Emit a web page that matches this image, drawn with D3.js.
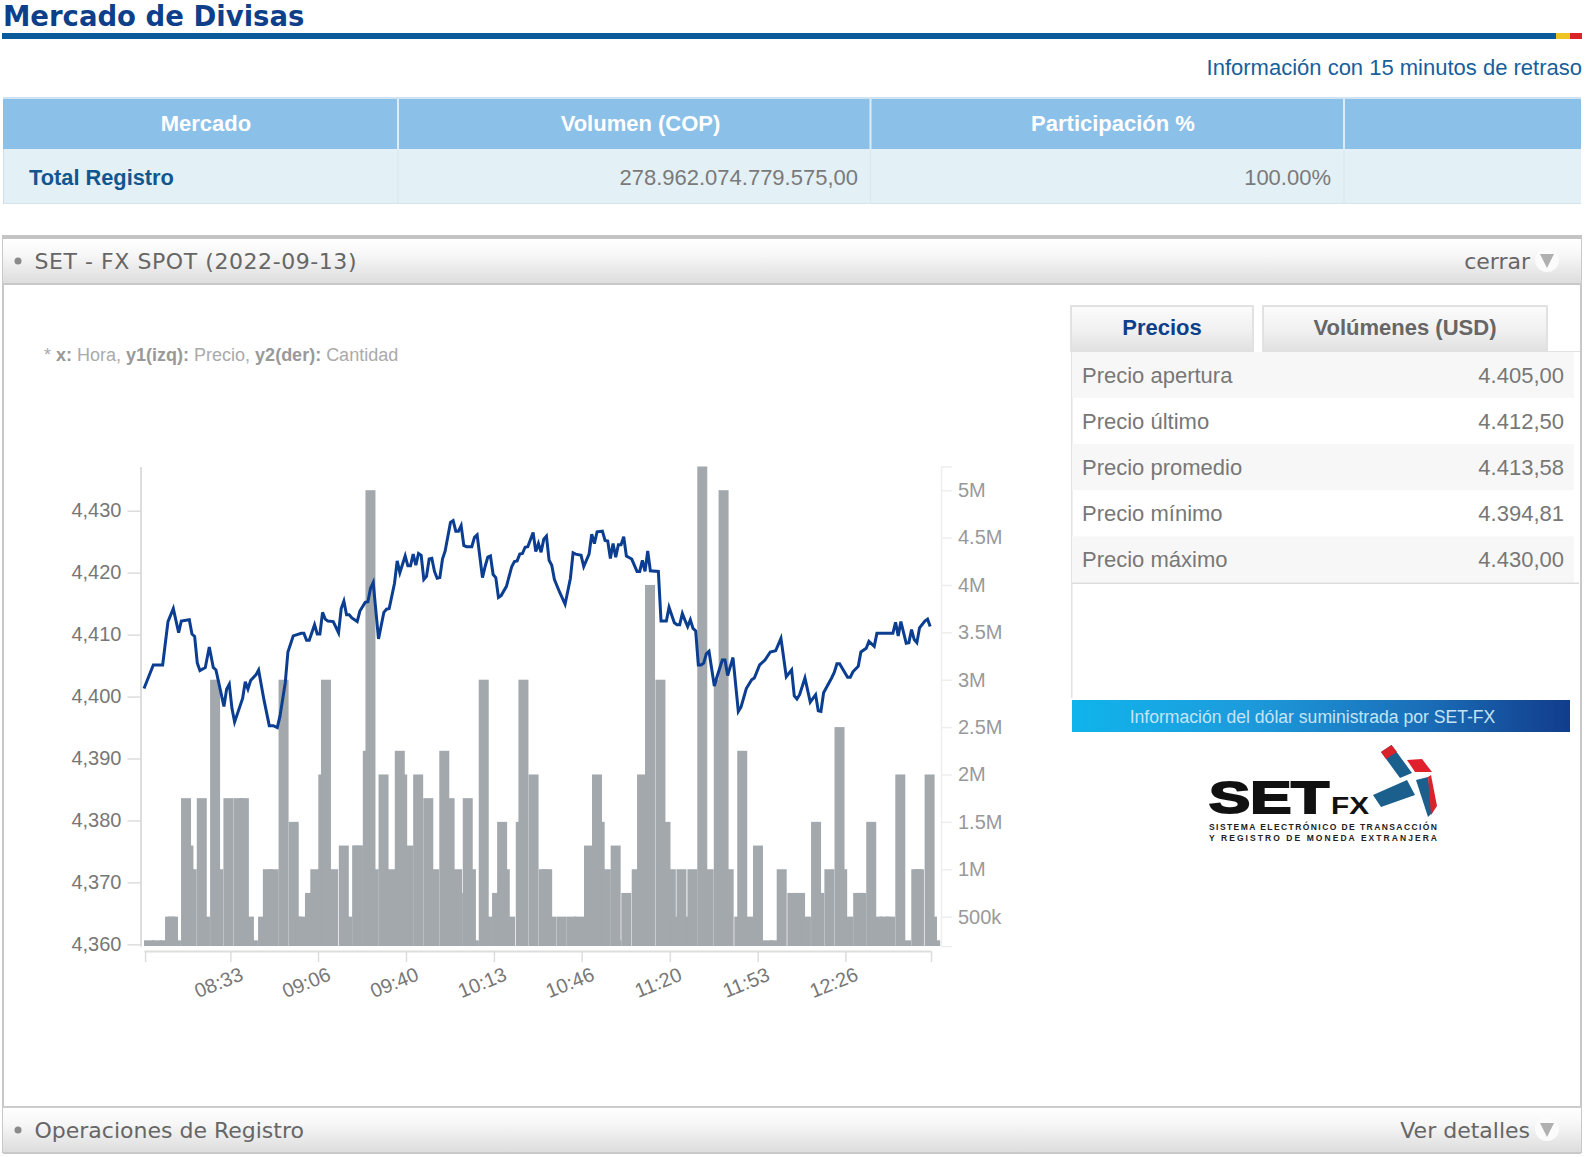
<!DOCTYPE html>
<html lang="es">
<head>
<meta charset="utf-8">
<title>Mercado de Divisas</title>
<script src="https://cdn.jsdelivr.net/npm/d3@7/dist/d3.min.js"></script>
<style>
  html, body { margin: 0; padding: 0; background: #fff; }
  svg { display: block; }
  text { font-family: "Liberation Sans", Arial, sans-serif; }
  .verdana { font-family: "DejaVu Sans", Verdana, sans-serif; }
</style>
</head>
<body>
<svg id="page"></svg>
<script>
// Precio por minuto (minutos desde la apertura)
const lineMinutes = [0,3.5,7,9,11,13,14,17,18,19,20,21,23,24.5,26,27,30,31,32,33,34,37,38,39,40,42,43,45,47,48.5,50,51,53,54,56,59,60,61,62,64,65,66,67,68,69,71,73,74,75,76,77,78,80,81,83,84,85,86,88,90,91,92,94,95,96,
  98,99,100,101,102,103,104,105,106,107,108,109,110,111,112,113,115,116,117,118,119,120,121,123,124,125,127,128,129,130,131,132,133,134,136,138,139,140,141,142,143,144,146,147,148,149,150,151,152,153,154,156,158,160,161,162,164,165,167,168,169,170,172,173,174,175,176,177,178,179,180,181,183,185,186,187,188,189,190,193,194,196,197,
  199,200,201,202,203,204,205,206,207,208,209,210,211,212,214,215,217,218,219,221,223,224,226,228,229,231,233,235,237,239,241,243,244,245,246,248,250,252,253,254,255,258,259,260,261,264,265,266,268,269,271,272,274,275,281,282,283,284,286,287,288,289,290,291,293,294,295];
const linePrices = [4401.3,4405.1,4405.1,4412.1,4414.2,4410.3,4412.2,4412.4,4410.1,4409.7,4405.4,4404.2,4404.7,4408,4404.7,4404.3,4398.4,4401.2,4402,4398.1,4395.9,4399.7,4402.4,4401.2,4402.6,4403.5,4404.3,4399.5,4395.3,4395.3,4395,4396.8,4402.2,4407.2,4409.8,4410.2,4410.2,4409.1,4409.1,4411.6,4410.1,4410.1,4413.6,4412.5,4412.2,4412.1,4410.3,4414.2,4415.4,4413.2,4413.2,4412.7,4412.1,4413.8,4415.2,4415.3,4417.5,4418.4,4409.3,4413.6,4414.1,4414.2,4418.3,4421.9,4420,
  4422.7,4421.1,4421.1,4423,4421.2,4423.1,4422.8,4418.9,4419.4,4422.2,4422.3,4420.2,4419.1,4419.2,4422.2,4423.5,4428.1,4428.4,4426.7,4426.7,4427.6,4424.4,4424.2,4424.2,4425.7,4426.1,4419.2,4421,4422.5,4422.7,4419.7,4419.2,4416,4416.3,4417.8,4421,4421.8,4421.9,4423,4423.1,4424.1,4424.2,4426.5,4423.4,4424.7,4423.3,4425.4,4425.9,4422,4421.2,4418.9,4416.8,4414.9,4419.1,4423.2,4423,4422.8,4421,4423,4426.2,4424.7,4426.6,4426.7,4425.2,4425.1,4422.3,4424.7,4422.5,4424.5,4424.5,4425.8,4422.7,4422.2,4420.2,4420.2,4422,4420.2,4423.5,4420.3,4420.2,4412.2,4412.2,4414.4,
  4411.9,4411.6,4411.6,4413.4,4412.3,4411.3,4412.4,4411,4410.6,4405.1,4405.1,4405.4,4406.9,4407.3,4401.7,4403.2,4405.9,4405.9,4403.4,4406.3,4397.6,4398.3,4401.3,4402.7,4403,4405.1,4405.9,4407.2,4407.4,4409.4,4403.2,4404.3,4400.1,4399.6,4400.3,4403,4399.1,4400.3,4397.7,4397.6,4400.6,4403,4403.9,4405.3,4405.3,4403.1,4403.1,4404,4404.9,4407.2,4407.8,4408.9,4408.1,4410.2,4410.2,4412,4409.8,4412.1,4408.6,4408.7,4410.8,4409.2,4408.7,4411.1,4412.2,4412.5,4411.3];

// Cantidad por operacion
const barMinutes = [0,3,6,7.9,9,10.1,13.9,14.8,16,19.8,21,24.8,26,29.8,33.6,35.6,37.5,39,42.8,44.6,45.6,46.8,50.5,54.3,55.5,56.8,60.4,62.4,65.4,66.4,69.1,73.1,74.4,78.1,78.4,82.1,83.1,84.3,88,90.5,94.1,
  95,97.3,101,104.8,107,110.8,112.8,115.6,115.9,119.6,120.8,121.9,125.6,126.9,130.6,132.5,133.5,135.5,139.5,140.5,144.3,148.1,149.4,151,154.8,158.5,161.4,165.1,168.1,169.1,171.4,175.1,175.4,179.1,183,185,188,191.9,193.8,
  195.8,197.9,199.8,201.6,203.9,207.6,210,213.8,215.6,217.5,221.5,222.6,224.8,228.5,232.1,234.8,237.4,241.4,244.3,246.5,250.3,251.5,255.3,259.1,260.1,262.4,266.1,267.3,271,273.5,276,278.1,281.9,284.1,287.9,288.9,292.9,293.8,295];
const barVolumes = [250000,250000,250000,500000,500000,250000,1750000,1250000,1000000,1750000,500000,3000000,1000000,1750000,1750000,1750000,500000,250000,500000,1000000,750000,1000000,3000000,1500000,500000,500000,750000,1000000,2000000,3000000,1000000,1250000,500000,1250000,1250000,2250000,5000000,1000000,2000000,1000000,2250000,
  2000000,1250000,2000000,1750000,1000000,2250000,1750000,1000000,750000,1750000,1000000,250000,3000000,500000,750000,1500000,1000000,500000,1500000,3000000,2000000,1000000,1000000,500000,500000,500000,500000,1250000,2000000,1500000,1000000,1250000,250000,750000,1000000,2000000,4000000,3000000,1500000,
  1000000,500000,1000000,500000,1000000,5250000,1000000,3000000,5000000,1000000,500000,2250000,500000,1250000,250000,250000,1000000,750000,750000,500000,1500000,750000,1000000,2500000,1000000,500000,750000,750000,1500000,500000,500000,500000,2000000,250000,1000000,1000000,2000000,500000,250000];

const barDuration = 3.75;
const priceTicks = [4360,4370,4380,4390,4400,4410,4420,4430];
const volumeTicks = [500000,1000000,1500000,2000000,2500000,3000000,3500000,4000000,4500000,5000000];
const timeTicks = [0.4,32.4,65.3,98.3,131.3,164.2,197.3,230.3,263.2,295.3];
const timeLabels = ["","08:33","09:06","09:40","10:13","10:46","11:20","11:53","12:26",""];

const marketHeaders = ["Mercado","Volumen (COP)","Participación %"];
const marketRow = ["Total Registro","278.962.074.779.575,00","100.00%"];
const priceLabels = ["Precio apertura","Precio último","Precio promedio","Precio mínimo","Precio máximo"];
const priceValues = ["4.405,00","4.412,50","4.413,58","4.394,81","4.430,00"];

const width = 1589, height = 1157;
const svg = d3.select("#page").attr("width", width).attr("height", height);

const defs = svg.append("defs");
function gradient(id, stops, horizontal) {
  const g = defs.append("linearGradient").attr("id", id)
    .attr("x1", 0).attr("y1", 0)
    .attr("x2", horizontal ? 1 : 0).attr("y2", horizontal ? 0 : 1);
  stops.forEach(s => g.append("stop").attr("offset", s[0]).attr("stop-color", s[1]));
}
gradient("panelHead", [[0,"#ffffff"],[0.35,"#f7f7f7"],[1,"#dcdcdc"]]);
gradient("tabHead", [[0,"#fbfbfb"],[0.5,"#f1f1f1"],[1,"#e0e0e0"]]);
gradient("banner", [[0,"#10b4ec"],[0.35,"#1d9bdc"],[0.7,"#1a6fb8"],[1,"#123c8c"]], true);

function rect(x, y, w, h, fill) {
  return svg.append("rect").attr("x", x).attr("y", y).attr("width", w).attr("height", h).attr("fill", fill);
}
function label(x, y, str, size, fill, opts) {
  opts = opts || {};
  return svg.append("text").attr("x", x).attr("y", y).text(str)
    .attr("font-size", size).attr("fill", fill)
    .attr("font-weight", opts.bold ? "bold" : "normal")
    .attr("text-anchor", opts.anchor || "start")
    .attr("class", opts.cls || null);
}

// Encabezado
label(3, 26, "Mercado de Divisas", 27.5, "#0d3f8a", { bold: true, cls: "verdana" });
rect(2, 33, 1554, 6, "#0b5a9a");
rect(1556, 33, 14, 6, "#f0c420");
rect(1570, 33, 12, 6, "#d8232a");
label(1582, 75, "Información con 15 minutos de retraso", 22, "#17609c", { anchor: "end" });

// Tabla de mercado
rect(3, 97, 1578, 2, "#cfe3f2");
rect(3, 99, 1578, 50, "#8bc0e8");
rect(3, 149, 1578, 55, "#e3f0f6");
rect(3, 203, 1578, 1, "#d5e3ea");
rect(3, 149, 1, 55, "#cfdde4");
[398, 870.5, 1344].forEach(x => {
  rect(x - 1, 99, 2, 50, "#dcecf8");
  rect(x - 0.5, 149, 1, 55, "#d8e7ee");
});
[206, 640.5, 1113].forEach((x, i) => {
  label(x, 131, marketHeaders[i], 22, "#fff", { bold: true, anchor: "middle" });
});
label(29, 185, marketRow[0], 21.8, "#12568f", { bold: true });
label(858, 185, marketRow[1], 22, "#7a7a7a", { anchor: "end" });
label(1331, 185, marketRow[2], 22, "#7a7a7a", { anchor: "end" });

// Paneles
function arrowIcon(cx, cy) {
  svg.append("circle").attr("cx", cx).attr("cy", cy).attr("r", 12).attr("fill", "#fbfbfb");
  svg.append("path").attr("d", `M${cx - 7},${cy - 6}L${cx + 7},${cy - 6}L${cx},${cy + 8}Z`).attr("fill", "#b0b0b0");
}
function panelHead(y, h, title, action, titleLength) {
  rect(3, y, 1578, h, "url(#panelHead)");
  rect(3, y + h - 1, 1578, 2, "#c8c8c8");
  svg.append("circle").attr("cx", 18).attr("cy", y + 22).attr("r", 3.5).attr("fill", "#8a8a8a");
  const t = label(34.5, y + 30, title, 22, "#666", { cls: "verdana" });
  if (titleLength) t.attr("textLength", titleLength).attr("lengthAdjust", "spacing");
  label(1530, y + 30, action, 22, "#666", { anchor: "end", cls: "verdana" });
  arrowIcon(1547, y + 21);
}
rect(2, 236, 2, 917, "#c8c8c8");
rect(1580, 236, 2, 917, "#c8c8c8");
rect(2, 235, 1580, 4, "#c4c4c4");
panelHead(239, 45, "SET - FX SPOT (2022-09-13)", "cerrar", 322);
rect(3, 1106, 1578, 2, "#cccccc");
panelHead(1108, 45, "Operaciones de Registro", "Ver detalles");

// Nota del grafico
const note = svg.append("text").attr("x", 44).attr("y", 361).attr("font-size", 18).attr("fill", "#aaa");
[["* ",0],["x: ",1],["Hora, ",0],["y1(izq): ",1],["Precio, ",0],["y2(der): ",1],["Cantidad",0]].forEach(p => {
  note.append("tspan").text(p[0]).attr("font-weight", p[1] ? "bold" : "normal").attr("fill", p[1] ? "#999" : "#aaa");
});

// Grafico
const x = d3.scaleLinear().domain([0, 295]).range([144, 930.2]);
const yPrice = d3.scaleLinear().domain([4359.73, 4437.14]).range([946, 466.5]);
const yVolume = d3.scaleLinear().domain([190000, 5250000]).range([946, 466.5]);

const bars = barMinutes.map((m, i) => ({ m: m, v: barVolumes[i] }));
svg.append("g").selectAll("rect").data(bars).join("rect")
  .attr("x", d => x(d.m))
  .attr("y", d => yVolume(d.v))
  .attr("width", d => x(d.m + barDuration) - x(d.m))
  .attr("height", d => yVolume.range()[0] - yVolume(d.v))
  .attr("fill", "#a2a8ac");

const line = d3.line().x(d => x(d.m)).y(d => yPrice(d.p));
svg.append("path")
  .datum(lineMinutes.map((m, i) => ({ m: m, p: linePrices[i] })))
  .attr("d", line)
  .attr("fill", "none")
  .attr("stroke", "#0b3d91")
  .attr("stroke-width", 3)
  .attr("stroke-linejoin", "miter");

const leftAxis = svg.append("g").attr("transform", "translate(140.5,0)")
  .call(d3.axisLeft(yPrice).tickValues(priceTicks).tickFormat(d3.format(",")).tickSize(13).tickSizeOuter(0).tickPadding(6));
leftAxis.select(".domain").attr("stroke", "#ddd").attr("stroke-width", 2);
leftAxis.selectAll(".tick line").attr("stroke", "#ddd").attr("stroke-width", 1.5);
leftAxis.selectAll("text").attr("font-size", 20).attr("fill", "#777").attr("font-family", "Liberation Sans").attr("y", -0.7);

const rightAxis = svg.append("g").attr("transform", "translate(941,0)")
  .call(d3.axisRight(yVolume).tickValues(volumeTicks).tickFormat(d => d < 1000000 ? (d / 1000) + "k" : (d / 1000000) + "M").tickSize(11).tickSizeOuter(11).tickPadding(6));
rightAxis.select(".domain").attr("stroke", "#eee").attr("stroke-width", 1.5);
rightAxis.selectAll(".tick line").attr("stroke", "#eee").attr("stroke-width", 1.5);
rightAxis.selectAll("text").attr("font-size", 20).attr("fill", "#999").attr("font-family", "Liberation Sans");

const bottomAxis = svg.append("g").attr("transform", "translate(0,951)")
  .call(d3.axisBottom(x).tickValues(timeTicks).tickFormat((d, i) => timeLabels[i]).tickSize(11).tickSizeOuter(0));
bottomAxis.select(".domain").attr("stroke", "#ddd").attr("stroke-width", 2);
bottomAxis.selectAll(".tick line").attr("stroke", "#ddd").attr("stroke-width", 1.5);
bottomAxis.selectAll("text")
  .attr("font-size", 20).attr("fill", "#777").attr("font-family", "Liberation Sans")
  .attr("x", 0).attr("y", 0).attr("dy", "0.32em").attr("text-anchor", "middle")
  .attr("transform", "translate(-12,32) rotate(-22)");

// Pestanas y tabla de precios
function tab(x0, w, str, fill) {
  rect(x0, 305, w, 47, "#e2e2e2");
  rect(x0 + 2, 307, w - 4, 45, "url(#tabHead)");
  label(x0 + w / 2, 335, str, 22, fill, { bold: true, anchor: "middle" });
}
tab(1070, 184, "Precios", "#0d3f8a");
tab(1262, 286, "Volúmenes (USD)", "#666");
rect(1548, 351, 32, 1, "#e2e2e2");
rect(1071, 352, 1.5, 346, "#e2e2e2");

priceLabels.forEach((name, i) => {
  const top = 352 + i * 46.1;
  if (i % 2 === 0) rect(1072, top, 502, 46.1, "#f7f7f7");
  label(1082, top + 30.5, name, 22, "#777");
  label(1564, top + 30.5, priceValues[i], 22, "#777", { anchor: "end" });
});
rect(1072, 582.5, 507, 1.5, "#dcdcdc");

// Banner y logo SET-FX
rect(1072, 700, 498, 32, "url(#banner)");
label(1312.5, 723, "Información del dólar suministrada por SET-FX", 17.6, "#c4e4f5", { anchor: "middle" });

const logo = svg.append("g");
logo.append("path").attr("d", "M1381,752L1391.5,745L1412,773L1400,778Z").attr("fill", "#1b5f8d");
logo.append("path").attr("d", "M1381,752L1391.5,745L1397,752L1386,759Z").attr("fill", "#d8232a");
logo.append("path").attr("d", "M1407,760L1422,759L1432,772L1415,772Z").attr("fill", "#e0202c");
logo.append("path").attr("d", "M1373,795L1407,780L1415,795L1381,807Z").attr("fill", "#1b5f8d");
logo.append("path").attr("d", "M1416,780L1428,777L1433,812L1428,817Z").attr("fill", "#1b5f8d");
logo.append("path").attr("d", "M1428,777L1431,775L1437,806L1431,815Z").attr("fill", "#d8232a");
logo.append("text").attr("x", 1209).attr("y", 813).text("SET")
  .attr("font-size", 44).attr("font-weight", "bold").attr("fill", "#111")
  .attr("stroke", "#111").attr("stroke-width", 2)
  .attr("textLength", 120).attr("lengthAdjust", "spacingAndGlyphs");
logo.append("text").attr("x", 1331).attr("y", 814).text("FX")
  .attr("font-size", 23).attr("font-weight", "bold").attr("fill", "#111")
  .attr("textLength", 38).attr("lengthAdjust", "spacingAndGlyphs");
logo.append("text").attr("x", 1209).attr("y", 830).text("SISTEMA ELECTRÓNICO DE TRANSACCIÓN")
  .attr("font-size", 8.5).attr("font-weight", "bold").attr("fill", "#222")
  .attr("textLength", 228).attr("lengthAdjust", "spacing");
logo.append("text").attr("x", 1209).attr("y", 841).text("Y REGISTRO DE MONEDA EXTRANJERA")
  .attr("font-size", 8.5).attr("font-weight", "bold").attr("fill", "#222")
  .attr("textLength", 228).attr("lengthAdjust", "spacing");
</script>
</body>
</html>
